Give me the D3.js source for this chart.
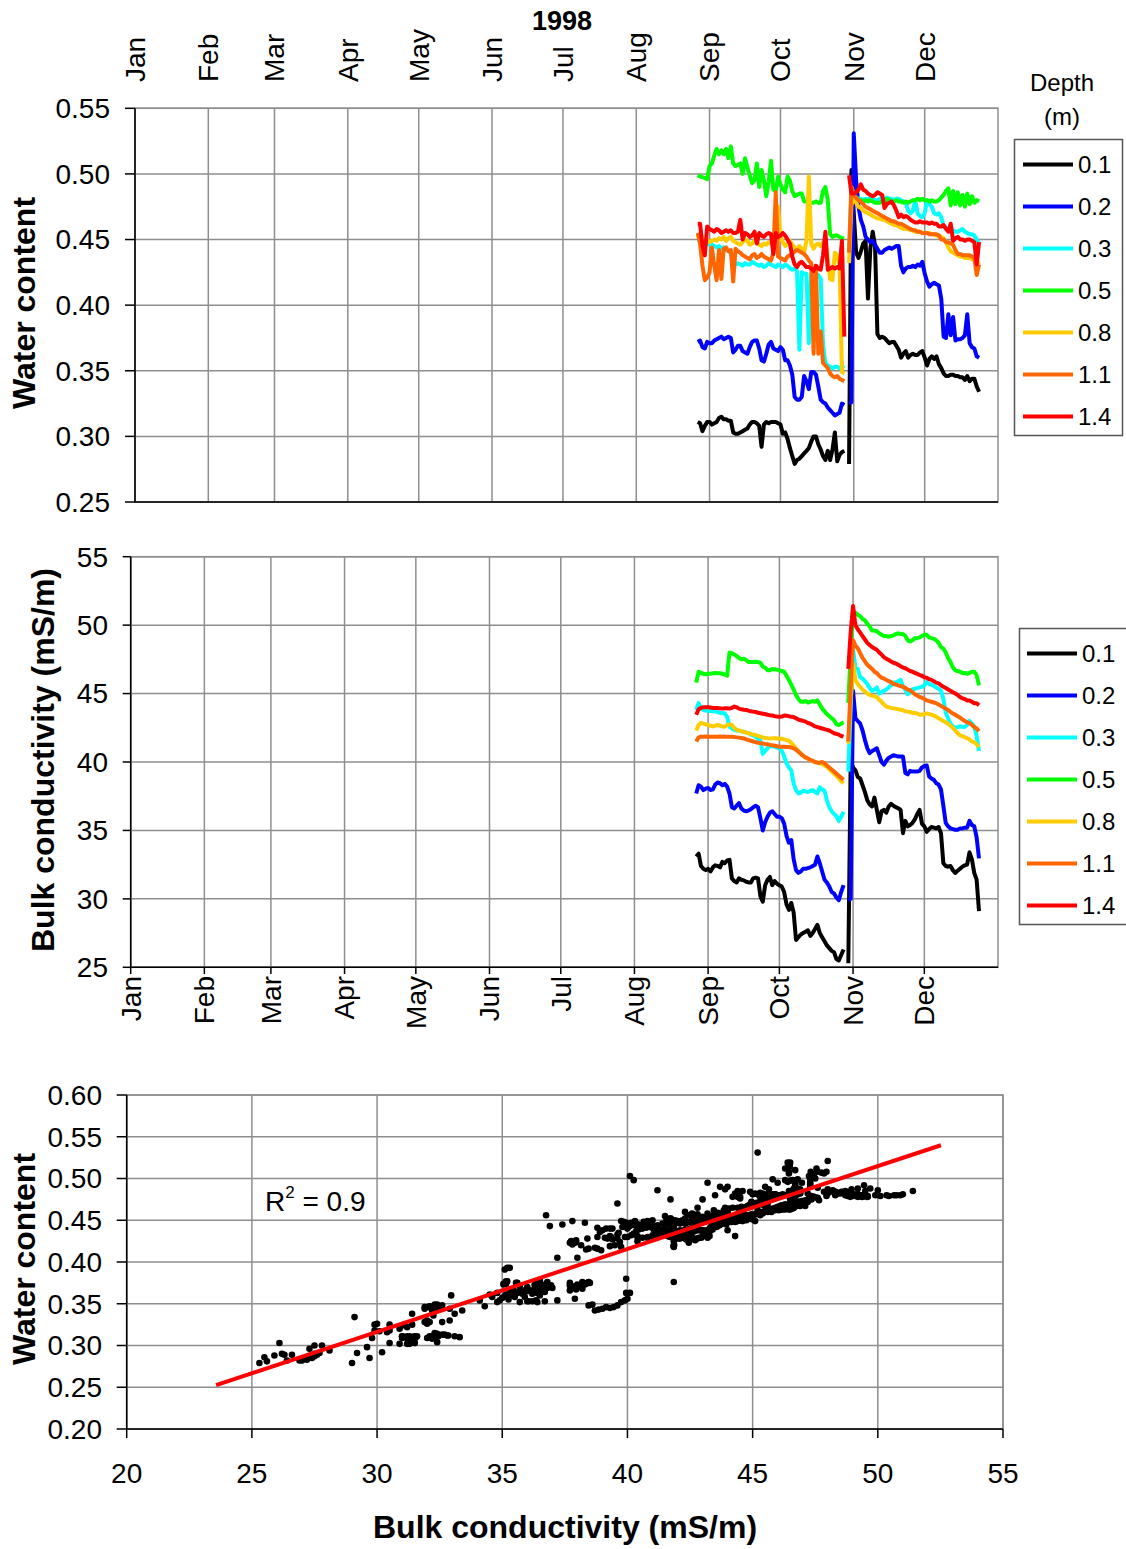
<!DOCTYPE html>
<html>
<head>
<meta charset="utf-8">
<script src="https://cdn.jsdelivr.net/npm/d3@7"></script>
<style>
  body { margin: 0; background: #fff; }
  svg text { font-family: "Liberation Sans", Arial, sans-serif; fill: #000; }
</style>
</head>
<body>
<svg id="chart" width="1126" height="1549"></svg>
<script>
// depths and colours in the legend order
const depths = ['0.1', '0.2', '0.3', '0.5', '0.8', '1.1', '1.4'];
const colors = ['#000000', '#0000ff', '#00ffff', '#00ff00', '#ffcc00', '#ff6600', '#ff0000'];
const monthNames = ['Jan', 'Feb', 'Mar', 'Apr', 'May', 'Jun', 'Jul', 'Aug', 'Sep', 'Oct', 'Nov', 'Dec'];

// daily readings, 27 Aug - 24 Dec 1998, no reading on 29 Oct (null)
const firstDay = '1998-08-27';
const lastDay = '1998-12-24';

// water content per depth
const theta01 = [0.311,0.310,0.304,0.308,0.311,0.311,0.309,0.310,0.311,0.314, 0.315,0.313,0.313,0.312,0.312,0.303,0.302,0.302,0.303,0.304, 0.305,0.306,0.309,0.311,0.311,0.310,0.308,0.292,0.309,0.311, 0.310,0.311,0.311,0.311,0.310,0.309,0.302,0.303,0.298,0.291, 0.285,0.279,0.282,0.283,0.285,0.287,0.289,0.291,0.296,0.300, 0.300,0.294,0.290,0.285,0.282,0.289,0.282,0.290,0.303,0.281, 0.286,0.288,0.289, null,
  0.279,0.503,0.470,0.440,0.436,0.441,0.447,0.449,0.405,0.443, 0.456,0.445,0.378,0.375,0.376,0.375,0.373,0.371,0.372,0.372, 0.369,0.366,0.360,0.363,0.365,0.360,0.362,0.363,0.362,0.362, 0.364,0.365,0.360,0.354,0.359,0.361,0.359,0.361,0.355,0.352, 0.348,0.346,0.346,0.347,0.347,0.346,0.346,0.345,0.345,0.343, 0.346,0.342,0.344,0.344,0.338,0.334];
const theta02 = [0.372,0.373,0.368,0.367,0.372,0.371,0.371,0.373,0.374,0.375, 0.376,0.374,0.375,0.376,0.375,0.364,0.366,0.369,0.369,0.365, 0.364,0.363,0.368,0.372,0.373,0.373,0.367,0.358,0.357,0.363, 0.370,0.372,0.367,0.366,0.365,0.368,0.366,0.358,0.358,0.354, 0.347,0.330,0.328,0.328,0.330,0.346,0.342,0.336,0.349,0.349, 0.347,0.338,0.328,0.326,0.325,0.322,0.320,0.318,0.316,0.317, 0.318,0.325,0.324, null,
  0.325,0.326,0.531,0.495,0.475,0.465,0.460,0.452,0.450,0.448, 0.449,0.446,0.443,0.440,0.440,0.442,0.443,0.444,0.443,0.444, 0.445,0.445,0.430,0.425,0.428,0.429,0.429,0.430,0.429,0.431, 0.430,0.433,0.424,0.418,0.414,0.416,0.417,0.416,0.415,0.405, 0.376,0.375,0.393,0.377,0.391,0.373,0.374,0.374,0.375,0.377, 0.393,0.371,0.368,0.367,0.361,0.360];
const theta03 = [0.448,0.449,0.447,0.446,0.447,0.446,0.446,0.445,0.444,0.445, 0.443,0.444,0.442,0.441,0.440,0.434,0.431,0.432,0.431,0.430, 0.432,0.431,0.431,0.433,0.432,0.431,0.430,0.431,0.429,0.430, 0.432,0.431,0.430,0.429,0.431,0.430,0.429,0.431,0.430,0.428, 0.427,0.428,0.426,0.366,0.425,0.424,0.424,0.371,0.423,0.424, 0.421,0.423,0.420,0.370,0.356,0.354,0.353,0.352,0.353,0.353, 0.352,0.353,0.354, null,
  0.440,0.490,0.484,0.482,0.481,0.481,0.480,0.481,0.480,0.482, 0.481,0.480,0.480,0.481,0.482,0.481,0.482,0.481,0.481,0.480, 0.481,0.481,0.480,0.479,0.478,0.472,0.470,0.472,0.480,0.470, 0.468,0.467,0.470,0.480,0.477,0.475,0.470,0.469,0.470,0.467, 0.460,0.459,0.458,0.457,0.457,0.456,0.456,0.457,0.458,0.456, 0.455,0.454,0.454,0.453,0.450,0.448];
const theta05 = [0.499,0.498,0.4975,0.497,0.496,0.506,0.508,0.514,0.519,0.515, 0.518,0.515,0.519,0.512,0.521,0.508,0.506,0.507,0.508,0.500, 0.512,0.505,0.499,0.493,0.495,0.508,0.490,0.503,0.495,0.483, 0.494,0.510,0.488,0.487,0.498,0.492,0.488,0.486,0.498,0.495, 0.487,0.483,0.484,0.485,0.485,0.479,0.479,0.479,0.478,0.478, 0.479,0.478,0.478,0.487,0.490,0.480,0.454,0.452,0.453,0.453, 0.452,0.451,0.451, null,
  0.482,0.482,0.481,0.480,0.480,0.480,0.479,0.480,0.479,0.480, 0.479,0.478,0.478,0.478,0.479,0.478,0.481,0.480,0.479,0.479, 0.480,0.479,0.479,0.478,0.479,0.478,0.479,0.480,0.480,0.481, 0.480,0.481,0.480,0.480,0.479,0.480,0.479,0.479,0.480,0.482, 0.484,0.487,0.489,0.476,0.487,0.477,0.486,0.476,0.484,0.475, 0.485,0.477,0.483,0.478,0.480,0.479];
const theta08 = [0.452,0.455,0.451,0.449,0.450,0.448,0.449,0.450,0.449,0.451, 0.450,0.452,0.449,0.451,0.452,0.449,0.448,0.447,0.446,0.448, 0.450,0.449,0.446,0.447,0.449,0.448,0.446,0.445,0.447,0.446, 0.448,0.447,0.450,0.452,0.475,0.452,0.448,0.445,0.447,0.449, 0.446,0.444,0.443,0.445,0.443,0.440,0.449,0.498,0.447,0.443, 0.446,0.447,0.445,0.448,0.449,0.435,0.420,0.419,0.440,0.438, 0.430,0.349,0.348, null,
  0.432,0.476,0.482,0.478,0.475,0.474,0.472,0.471,0.470,0.469, 0.468,0.467,0.466,0.466,0.465,0.465,0.464,0.463,0.462,0.461, 0.461,0.460,0.459,0.458,0.458,0.458,0.457,0.457,0.456,0.456, 0.456,0.455,0.455,0.455,0.455,0.454,0.454,0.453,0.453,0.452, 0.451,0.448,0.444,0.441,0.440,0.439,0.438,0.437,0.437,0.436, 0.436,0.436,0.435,0.435,0.434,0.431];
const theta11 = [0.455,0.447,0.430,0.419,0.421,0.425,0.444,0.430,0.419,0.442, 0.420,0.443,0.444,0.441,0.442,0.418,0.443,0.441,0.440,0.438, 0.437,0.436,0.435,0.438,0.439,0.436,0.437,0.439,0.437,0.436, 0.435,0.434,0.440,0.486,0.437,0.436,0.435,0.434,0.437,0.438, 0.439,0.441,0.442,0.441,0.440,0.439,0.437,0.434,0.432,0.363, 0.430,0.363,0.380,0.356,0.354,0.352,0.348,0.346,0.345,0.346, 0.344,0.343,0.342, null,
  0.440,0.490,0.484,0.482,0.480,0.479,0.477,0.475,0.474,0.473, 0.472,0.471,0.470,0.469,0.468,0.467,0.466,0.465,0.464,0.464, 0.463,0.462,0.462,0.461,0.460,0.459,0.458,0.457,0.457,0.456, 0.456,0.455,0.455,0.455,0.454,0.454,0.454,0.454,0.453,0.450, 0.450,0.448,0.448,0.447,0.446,0.442,0.439,0.439,0.438,0.438, 0.438,0.438,0.437,0.436,0.423,0.431];
const theta14 = [0.462,0.462,0.445,0.438,0.460,0.458,0.457,0.456,0.458,0.457, 0.455,0.456,0.457,0.456,0.457,0.455,0.455,0.456,0.465,0.450, 0.455,0.454,0.452,0.453,0.456,0.447,0.455,0.453,0.452,0.454, 0.455,0.454,0.439,0.455,0.452,0.453,0.455,0.453,0.450,0.447, 0.437,0.431,0.429,0.432,0.433,0.431,0.429,0.429,0.428,0.426, 0.430,0.428,0.427,0.438,0.456,0.427,0.428,0.429,0.428,0.429, 0.428,0.449,0.376, null,
  0.499,0.485,0.485,0.486,0.488,0.492,0.488,0.487,0.485,0.484, 0.483,0.484,0.486,0.485,0.484,0.474,0.477,0.478,0.479,0.476, 0.472,0.467,0.469,0.467,0.468,0.467,0.465,0.464,0.463,0.463, 0.464,0.463,0.463,0.463,0.462,0.463,0.462,0.462,0.460,0.460, 0.461,0.458,0.456,0.462,0.449,0.451,0.452,0.450,0.450,0.449, 0.450,0.450,0.449,0.448,0.431,0.448];

// bulk conductivity (mS/m) per depth
const ec01 = [33.1,33.3,32.4,32.2,32.1,32.2,32.0,32.3,32.45,32.4, 32.3,32.7,32.6,32.8,32.85,31.5,31.3,31.2,31.5,31.4, 31.35,31.25,31.2,31.2,31.5,31.55,31.5,30.2,29.8,31.0, 31.4,31.6,31.0,31.3,31.1,31.0,30.9,30.5,29.6,29.2, 29.7,29.0,27.0,27.2,27.4,27.5,27.6,27.7,27.3,27.5, 27.8,28.1,27.5,27.2,26.9,26.6,26.4,26.2,26.1,25.6, 25.5,25.9,26.3, null,
  25.3,40.1,39.6,39.4,38.9,38.8,38.3,37.8,37.2,36.9, 36.75,37.4,36.5,35.6,36.4,36.5,36.3,36.75,36.95,36.8, 36.7,36.62,36.5,34.8,35.7,35.3,35.4,35.55,35.8,36.2, 36.5,35.5,35.3,34.9,35.1,35.25,35.2,35.15,35.25,34.8, 32.6,32.4,32.35,32.4,32.1,31.9,32.05,32.2,32.35,32.45, 32.5,33.4,32.9,31.9,31.4,29.1];
const ec02 = [37.7,38.3,38.2,37.95,38.05,38.1,37.95,38.0,38.35,38.5, 38.45,38.3,38.4,38.2,37.7,36.7,36.6,36.8,37.0,36.6, 36.45,36.4,36.45,36.55,36.7,36.8,36.7,35.9,35.0,35.6, 36.0,36.3,36.4,36.2,36.0,36.0,35.9,35.5,34.6,34.1, 34.3,32.9,32.1,31.9,32.0,32.2,32.2,32.25,32.3,32.4, 32.5,33.1,32.6,32.0,31.4,31.2,30.9,30.5,30.4,30.1, 29.9,30.5,31.0, null,
  29.9,30.0,45.2,43.2,43.0,42.8,42.3,41.6,41.0,40.65, 40.8,40.9,41.0,40.5,40.0,39.8,40.1,40.3,40.4,40.5, 40.45,40.4,40.4,40.4,39.2,39.1,39.35,39.3,39.3,39.3, 39.35,39.6,39.7,39.75,38.95,38.8,38.7,38.45,38.35,38.0, 36.8,35.55,35.3,35.15,35.1,35.05,35.05,35.15,35.15,35.2, 35.2,35.7,35.4,35.3,34.5,32.96];
const ec03 = [43.8,44.3,43.9,43.8,43.75,43.75,43.72,43.7,43.68,43.65, 43.6,43.56,43.56,43.3,42.6,42.45,42.35,42.3,42.28,42.25, 42.2,42.15,42.1,42.0,41.95,41.85,41.7,41.6,40.6,40.8, 41.0,41.2,41.15,41.1,41.05,41.0,40.8,40.4,39.9,39.6, 39.4,38.4,37.95,37.7,37.75,37.9,37.85,37.8,37.9,37.95, 37.8,37.7,38.15,38.0,37.9,37.2,36.7,36.4,36.2,36.05, 35.7,36.0,36.35, null,
  39.3,44.0,48.2,46.9,46.8,46.2,46.1,45.9,45.7,45.4, 45.2,45.3,45.45,45.0,45.1,45.2,45.3,45.45,45.6,45.8, 45.8,45.9,46.0,45.5,45.3,44.95,45.1,45.3,45.35,45.4, 45.45,45.5,45.6,45.85,45.7,45.65,45.55,45.45,45.35,45.2, 44.6,43.6,43.2,42.8,42.6,42.5,42.55,42.6,42.58,42.55, 42.7,43.0,42.8,42.6,41.9,40.8];
const ec05 = [45.8,46.6,46.5,46.45,46.4,46.45,46.45,46.48,46.5,46.48, 46.48,46.45,46.4,46.3,48.0,47.95,47.85,47.75,47.6,47.5, 47.55,47.45,47.3,47.3,47.3,47.32,47.3,47.25,46.97,46.9, 46.7,46.7,46.8,46.75,46.75,46.7,46.65,46.6,46.3,46.0, 45.65,45.3,44.9,44.6,44.4,44.4,44.45,44.35,44.4,44.45, 44.4,44.5,44.2,43.9,43.7,43.5,43.35,43.2,43.05,42.75, 42.7,42.8,42.9, null,
  44.3,48.0,51.0,50.9,50.75,50.65,50.45,50.35,50.1,49.9, 49.6,49.6,49.55,49.4,49.3,49.2,49.2,49.15,49.2,49.25, 49.35,49.4,49.35,49.35,49.2,48.9,48.8,48.9,49.05,49.05, 49.1,49.2,49.3,49.3,49.1,49.05,49.0,48.9,48.7,48.4, 48.3,48.0,47.6,47.3,46.9,46.7,46.65,46.6,46.5,46.5, 46.45,46.5,46.6,46.6,46.35,45.6];
const ec08 = [42.3,42.7,42.85,42.8,42.75,42.7,42.65,42.6,42.65,42.7, 42.65,42.6,42.58,42.7,42.75,42.7,42.5,42.35,42.3,42.25, 42.2,42.15,42.1,42.05,42.0,41.97,41.9,41.85,41.8,41.75, 41.73,41.72,41.73,41.73,41.72,41.72,41.7,41.65,41.6,41.55, 41.4,41.2,41.0,40.8,40.6,40.45,40.3,40.25,40.15,40.05, 40.0,39.95,39.9,39.85,39.75,39.65,39.5,39.3,39.15,39.0, 38.8,38.6,38.45, null,
  41.35,44.5,47.2,46.0,45.7,45.5,45.3,45.15,45.0,44.9, 44.85,44.8,44.75,44.55,44.4,44.2,44.05,44.0,43.95,43.92, 43.9,43.85,43.82,43.78,43.7,43.68,43.65,43.6,43.58,43.55, 43.45,43.45,43.5,43.55,43.5,43.45,43.4,43.3,43.2,43.1, 43.0,42.9,42.8,42.65,42.5,42.3,42.1,41.95,41.9,41.8, 41.75,41.65,41.5,41.45,41.3,41.1];
const ec11 = [41.5,41.8,41.85,41.85,41.86,41.85,41.85,41.84,41.85,41.85, 41.86,41.85,41.84,41.85,41.85,41.85,41.82,41.8,41.78,41.75, 41.72,41.65,41.6,41.55,41.5,41.45,41.4,41.38,41.35,41.32, 41.3,41.25,41.22,41.2,41.15,41.12,41.12,41.12,41.1,41.1, 41.05,41.0,40.9,40.75,40.6,40.45,40.35,40.25,40.15,40.1, 40.0,39.95,39.95,40.0,39.9,39.75,39.6,39.45,39.3,39.15, 39.0,38.85,38.7, null,
  41.5,45.5,48.9,48.5,48.3,47.95,47.6,47.35,47.1,46.95, 46.8,46.6,46.5,46.3,46.15,46.1,46.0,45.9,45.85,45.7, 45.65,45.6,45.55,45.5,45.4,45.3,45.25,45.1,44.95,44.85, 44.75,44.7,44.6,44.5,44.45,44.4,44.35,44.3,44.2,44.1, 44.0,43.9,43.8,43.65,43.55,43.45,43.35,43.25,43.1,43.0, 42.9,42.85,42.7,42.55,42.45,42.25];
const ec14 = [43.45,43.85,43.95,44.0,44.0,44.0,43.98,43.95,43.95,43.95, 43.92,43.9,43.92,43.92,43.9,43.95,44.05,44.0,43.9,43.85, 43.82,43.8,43.75,43.7,43.68,43.65,43.6,43.56,43.52,43.5, 43.45,43.42,43.4,43.35,43.32,43.3,43.32,43.4,43.38,43.35, 43.3,43.28,43.2,43.1,43.05,43.0,42.95,42.85,42.8,42.7, 42.6,42.55,42.5,42.45,42.4,42.35,42.3,42.2,42.1,42.05, 42.0,41.9,41.85, null,
  46.8,49.5,51.4,50.0,49.7,49.45,49.2,48.95,48.7,48.55, 48.4,48.3,48.2,48.0,47.85,47.65,47.55,47.45,47.35,47.25, 47.2,47.1,47.0,46.9,46.85,46.75,46.65,46.6,46.5,46.45, 46.35,46.3,46.2,46.15,46.05,46.0,45.9,45.8,45.75,45.6, 45.5,45.4,45.3,45.2,45.1,45.0,44.9,44.75,44.65,44.6, 44.5,44.5,44.4,44.3,44.3,44.15];

// axis ticks
const thetaTicks = [0.25, 0.30, 0.35, 0.40, 0.45, 0.50, 0.55];
const ecTicks = [25, 30, 35, 40, 45, 50, 55];
const scatterXTicks = [20, 25, 30, 35, 40, 45, 50, 55];
const scatterYTicks = [0.20, 0.25, 0.30, 0.35, 0.40, 0.45, 0.50, 0.55, 0.60];

// linear trend shown on the scatter
const trend = { slope: 0.00992, intercept: 0.0188, from: 23.57, to: 52.52 };
const rSquared = 0.9;

const thetaSeries = [theta01, theta02, theta03, theta05, theta08, theta11, theta14];
const ecSeries = [ec01, ec02, ec03, ec05, ec08, ec11, ec14];

const dates = d3.utcDay.range(d3.isoParse(firstDay), d3.utcDay.offset(d3.isoParse(lastDay), 1));
const yearStart = new Date(Date.UTC(1998, 0, 1));
const yearEnd = new Date(Date.UTC(1999, 0, 1));
const monthStarts = d3.utcMonth.range(yearStart, yearEnd);

const svg = d3.select('#chart');
const gridColor = '#8e8e8e';
const f2 = d3.format('.2f');

// shared frame for a plot area: grid, grey border, black left/bottom axes, y ticks
function frame(x0, x1, y0, y1, yScale, yTicks, fmt, labelX, tickLen, xLines) {
    const g = svg.append('g');
    g.selectAll('line.h').data(yTicks).enter().append('line')
        .attr('x1', x0).attr('x2', x1)
        .attr('y1', d => yScale(d)).attr('y2', d => yScale(d))
        .attr('stroke', gridColor).attr('stroke-width', 1.5);
    g.selectAll('line.v').data(xLines).enter().append('line')
        .attr('x1', d => d).attr('x2', d => d)
        .attr('y1', y0).attr('y2', y1)
        .attr('stroke', gridColor).attr('stroke-width', 1.5);
    g.append('rect').attr('x', x0).attr('y', y0).attr('width', x1 - x0).attr('height', y1 - y0)
        .attr('fill', 'none').attr('stroke', gridColor).attr('stroke-width', 1.5);
    g.append('line').attr('x1', x0).attr('x2', x0).attr('y1', y0).attr('y2', y1)
        .attr('stroke', '#000').attr('stroke-width', 1.5);
    g.append('line').attr('x1', x0).attr('x2', x1).attr('y1', y1).attr('y2', y1)
        .attr('stroke', '#000').attr('stroke-width', 1.5);
    g.selectAll('line.t').data(yTicks).enter().append('line')
        .attr('x1', x0 - tickLen).attr('x2', x0)
        .attr('y1', d => yScale(d)).attr('y2', d => yScale(d))
        .attr('stroke', '#000').attr('stroke-width', 1.5);
    g.selectAll('text.yl').data(yTicks).enter().append('text')
        .attr('x', labelX).attr('y', d => yScale(d)).attr('dy', '0.35em')
        .attr('text-anchor', 'end').attr('font-size', 28)
        .text(fmt);
    return g;
}

function axisTitle(x, y, text, rotate) {
    svg.append('text')
        .attr('transform', `translate(${x},${y})` + (rotate ? ' rotate(-90)' : ''))
        .attr('text-anchor', 'middle').attr('font-size', 32).attr('font-weight', 'bold')
        .text(text);
}

function seriesLines(xScale, yScale, series) {
    const line = d3.line()
        .defined(d => d[1] != null)
        .x(d => xScale(d[0]))
        .y(d => yScale(d[1]));
    svg.append('g').selectAll('path').data(series).enter().append('path')
        .attr('d', vals => line(dates.map((t, i) => [t, vals[i]])))
        .attr('fill', 'none')
        .attr('stroke', (d, i) => colors[i])
        .attr('stroke-width', 4)
        .attr('stroke-linejoin', 'round');
}

function legend(bx, by, lx1, lx2, tx) {
    const g = svg.append('g');
    g.append('rect').attr('x', bx).attr('y', by).attr('width', 108).attr('height', 296)
        .attr('fill', '#fff').attr('stroke', '#555').attr('stroke-width', 1.5);
    depths.forEach((d, i) => {
        const y = by + 25 + i * 42;
        g.append('line').attr('x1', lx1).attr('x2', lx2).attr('y1', y).attr('y2', y)
            .attr('stroke', colors[i]).attr('stroke-width', 4);
        g.append('text').attr('x', tx).attr('y', y + 8.5).attr('font-size', 24).text(d);
    });
}

// ---------- panel 1 : water content against date ----------
const xTop = d3.scaleUtc().domain([yearStart, yearEnd]).range([135, 998]);
const yTop = d3.scaleLinear().domain([0.25, 0.55]).range([502, 108.3]);
frame(135, 998, 108.3, 502, yTop, thetaTicks, f2, 110, 10, monthStarts.map(m => xTop(m)));
seriesLines(xTop, yTop, thetaSeries);

svg.selectAll('text.mtop').data(monthStarts).enter().append('text')
    .attr('transform', d => `translate(${xTop(d)},82) rotate(-90)`)
    .attr('dy', '0.35em').attr('font-size', 28)
    .text((d, i) => monthNames[i]);
svg.append('text').attr('x', 562).attr('y', 30).attr('text-anchor', 'middle')
    .attr('font-size', 27).attr('font-weight', 'bold').text('1998');
axisTitle(35, 303, 'Water content', true);

svg.append('text').attr('x', 1062).attr('y', 91).attr('text-anchor', 'middle').attr('font-size', 24).text('Depth');
svg.append('text').attr('x', 1062).attr('y', 125).attr('text-anchor', 'middle').attr('font-size', 24).text('(m)');
legend(1014.5, 139.5, 1023, 1073, 1078);

// ---------- panel 2 : bulk conductivity against date ----------
const xMid = d3.scaleUtc().domain([yearStart, yearEnd]).range([130.7, 998]);
const yMid = d3.scaleLinear().domain([25, 55]).range([967.3, 556.7]);
const gMid = frame(130.7, 998, 556.7, 967.3, yMid, ecTicks, d => d, 108, 8, monthStarts.map(m => xMid(m)));
gMid.selectAll('line.xt').data(monthStarts).enter().append('line')
    .attr('x1', d => xMid(d)).attr('x2', d => xMid(d))
    .attr('y1', 967.3).attr('y2', 974)
    .attr('stroke', '#000').attr('stroke-width', 1.5);
seriesLines(xMid, yMid, ecSeries);

svg.selectAll('text.mbot').data(monthStarts).enter().append('text')
    .attr('transform', d => `translate(${xMid(d)},976) rotate(-90)`)
    .attr('dy', '0.35em').attr('text-anchor', 'end').attr('font-size', 28)
    .text((d, i) => monthNames[i]);
axisTitle(54, 760, 'Bulk conductivity (mS/m)', true);
legend(1019.5, 628.5, 1027, 1077, 1082);

// ---------- panel 3 : water content against bulk conductivity ----------
const xSc = d3.scaleLinear().domain([20, 55]).range([126.7, 1003]);
const ySc = d3.scaleLinear().domain([0.2, 0.6]).range([1429, 1095]);
const gSc = frame(126.7, 1003, 1095, 1429, ySc, scatterYTicks, f2, 102, 10,
    scatterXTicks.map(v => xSc(v)));
gSc.selectAll('line.xt').data(scatterXTicks).enter().append('line')
    .attr('x1', d => xSc(d)).attr('x2', d => xSc(d))
    .attr('y1', 1429).attr('y2', 1438)
    .attr('stroke', '#000').attr('stroke-width', 1.5);
gSc.selectAll('text.xl').data(scatterXTicks).enter().append('text')
    .attr('x', d => xSc(d)).attr('y', 1483)
    .attr('text-anchor', 'middle').attr('font-size', 28)
    .text(d => d);

// pair the two daily records of every depth
const pairs = [];
thetaSeries.forEach((th, k) => {
    th.forEach((v, i) => {
        const e = ecSeries[k][i];
        if (v != null && e != null) pairs.push([e, v]);
    });
});
svg.append('g').selectAll('circle').data(pairs).enter().append('circle')
    .attr('cx', d => xSc(d[0])).attr('cy', d => ySc(d[1]))
    .attr('r', 3.3).attr('fill', '#000');

svg.append('line')
    .attr('x1', xSc(trend.from)).attr('y1', ySc(trend.intercept + trend.slope * trend.from))
    .attr('x2', xSc(trend.to)).attr('y2', ySc(trend.intercept + trend.slope * trend.to))
    .attr('stroke', '#ff0000').attr('stroke-width', 4);

const r2 = svg.append('text').attr('x', 265).attr('y', 1211).attr('font-size', 28);
r2.append('tspan').text('R');
r2.append('tspan').attr('font-size', 17).attr('dy', -13).text('2');
r2.append('tspan').attr('dy', 13).text(' = ' + rSquared);

axisTitle(35, 1259, 'Water content', true);
axisTitle(565, 1538, 'Bulk conductivity (mS/m)', false);
</script>
</body>
</html>
